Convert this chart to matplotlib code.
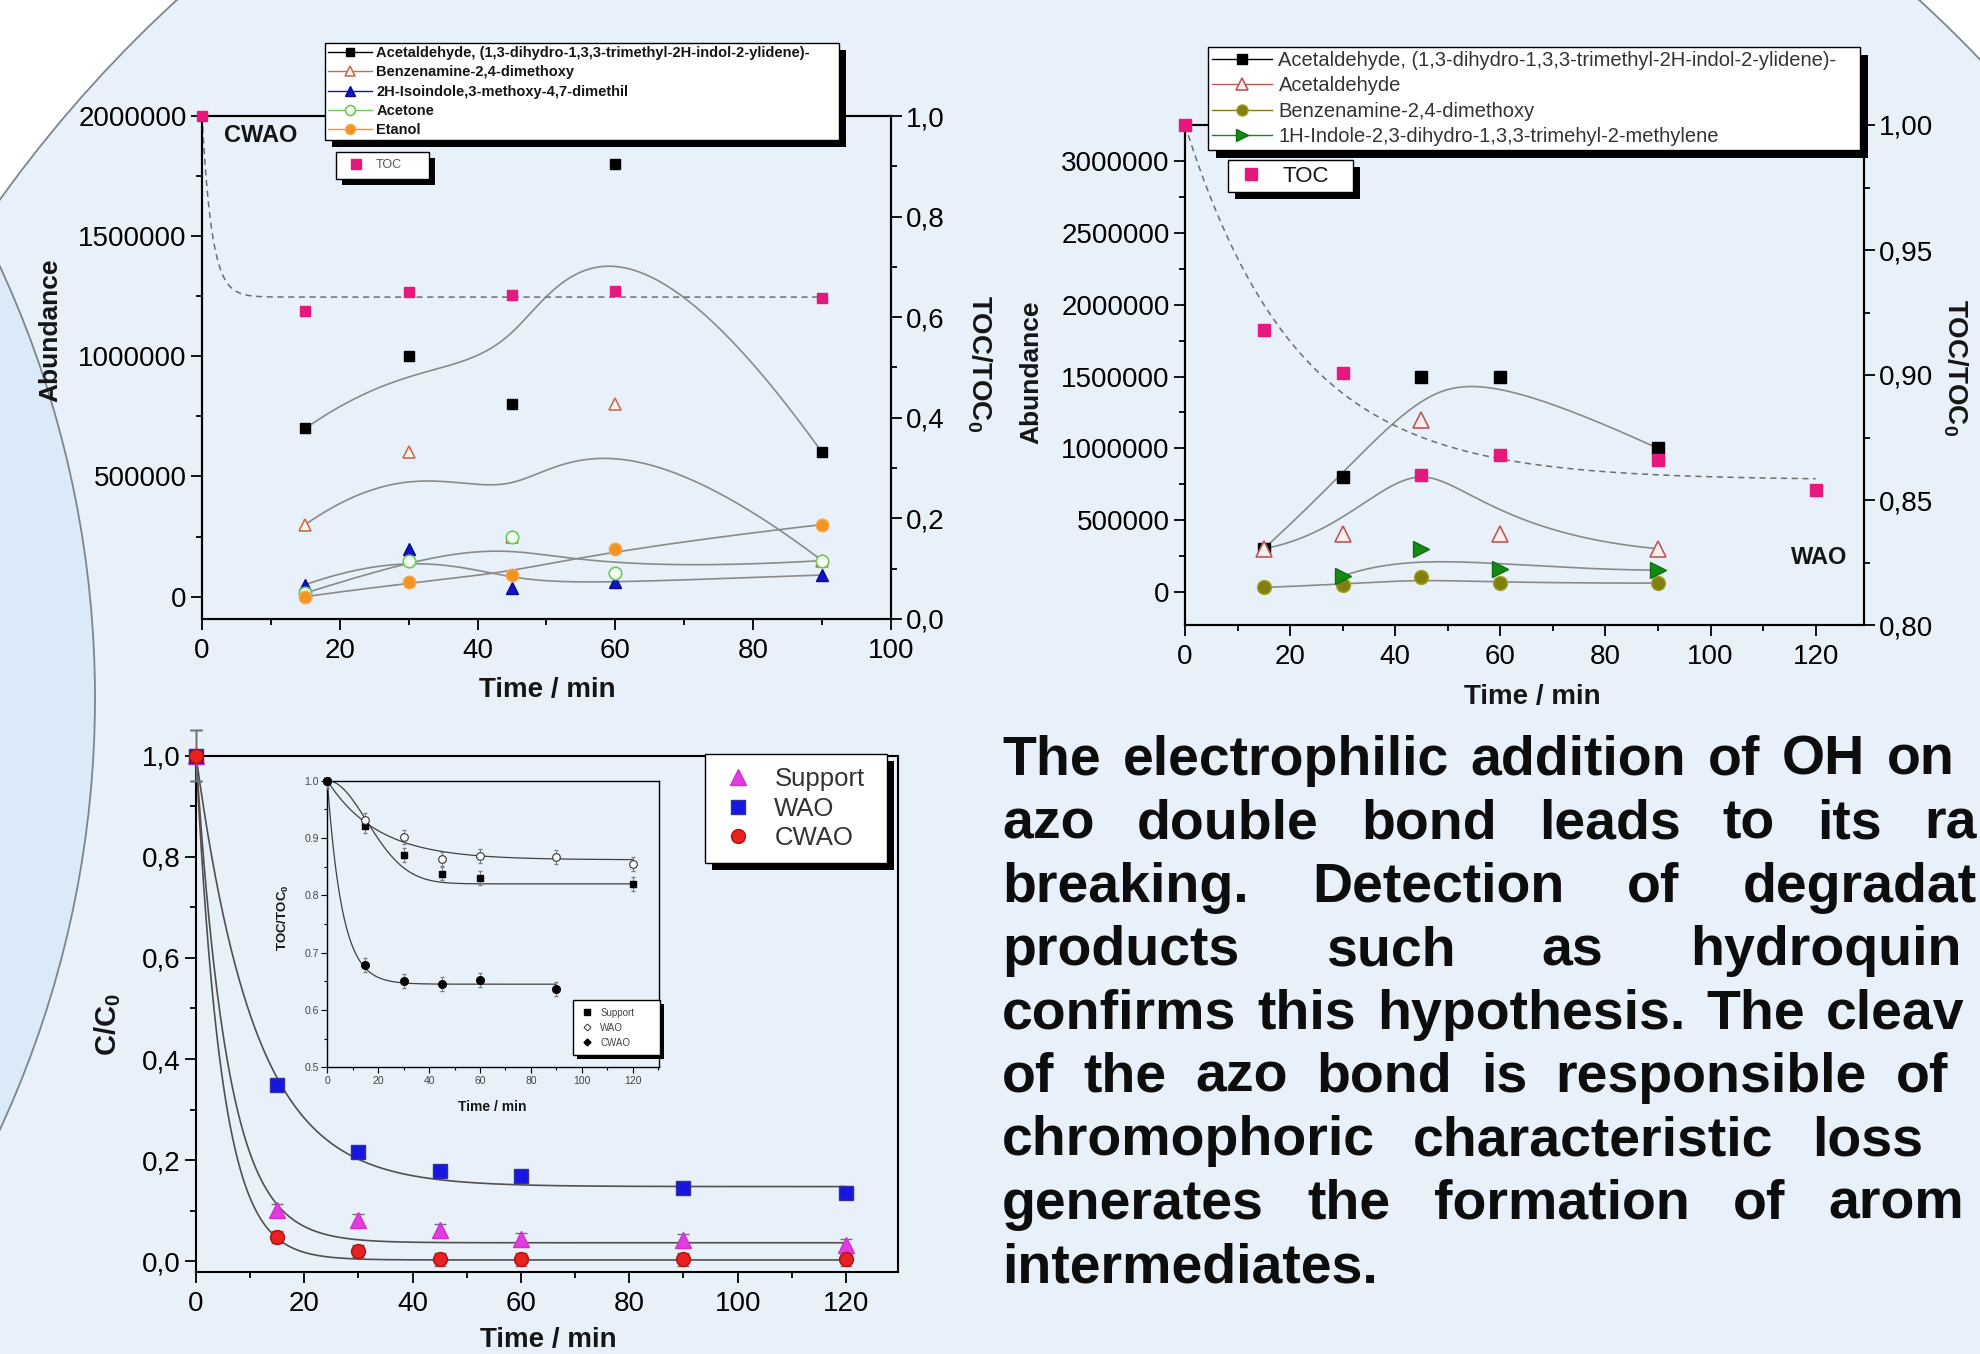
import numpy as np
import matplotlib
matplotlib.use("Agg")
import matplotlib.pyplot as plt
from matplotlib.lines import Line2D
from matplotlib.legend import Legend
from matplotlib.patches import Circle, Rectangle
from matplotlib.ticker import MultipleLocator, FuncFormatter
from matplotlib.transforms import IdentityTransform

W, H = 1981, 1354

# top left panel (CWAO), abundance of by-products
tl_time = [15, 30, 45, 60, 90]
tl_acetaldehyde_ylidene = [700000, 1000000, 800000, 1800000, 600000]
tl_benzenamine = [300000, 600000, 250000, 800000, 150000]
tl_isoindole = [50000, 200000, 35000, 60000, 90000]
tl_acetone = [15000, 150000, 250000, 100000, 150000]
tl_etanol = [0, 60000, 90000, 200000, 300000]
tl_toc_time = [0, 15, 30, 45, 60, 90]
tl_toc = [1.0, 0.612, 0.650, 0.645, 0.652, 0.638]
tl_toc_fit = (0.640, 0.7)          # plateau, rate (1/min)
tl_labels = ["Acetaldehyde, (1,3-dihydro-1,3,3-trimethyl-2H-indol-2-ylidene)-",
             "Benzenamine-2,4-dimethoxy",
             "2H-Isoindole,3-methoxy-4,7-dimethil",
             "Acetone",
             "Etanol"]

# top right panel (WAO)
tr_time = [15, 30, 45, 60, 90]
tr_acetaldehyde_ylidene = [300000, 800000, 1500000, 1500000, 1000000]
tr_acetaldehyde = [300000, 400000, 1200000, 400000, 300000]
tr_benzenamine = [30000, 50000, 100000, 60000, 60000]
tr_indole_time = [30, 45, 60, 90]
tr_indole = [110000, 300000, 160000, 150000]
tr_toc_time = [0, 15, 30, 45, 60, 90, 120]
tr_toc = [1.0, 0.918, 0.901, 0.860, 0.868, 0.866, 0.854]
tr_toc_fit = (0.858, 0.047)
tr_labels = ["Acetaldehyde, (1,3-dihydro-1,3,3-trimethyl-2H-indol-2-ylidene)-",
             "Acetaldehyde",
             "Benzenamine-2,4-dimethoxy",
             "1H-Indole-2,3-dihydro-1,3,3-trimehyl-2-methylene"]

# bottom panel, dye conversion C/C0
bl_time = [0, 15, 30, 45, 60, 90, 120]
bl_support = [1.0, 0.102, 0.082, 0.063, 0.044, 0.043, 0.033]
bl_wao = [1.0, 0.349, 0.217, 0.178, 0.168, 0.146, 0.136]
bl_cwao = [1.0, 0.049, 0.020, 0.004, 0.004, 0.004, 0.004]
bl_err = [0.05, 0.012, 0.012, 0.012, 0.012, 0.012, 0.012]
bl_support_fit = (0.037, 0.17)
bl_wao_fit = (0.148, 0.092)
bl_cwao_fit = (0.003, 0.21)

# inset, TOC/TOC0
in_time_support = [0, 15, 30, 45, 60, 120]
in_support = [1.0, 0.921, 0.870, 0.838, 0.830, 0.820]
in_time_wao = [0, 15, 30, 45, 60, 90, 120]
in_wao = [1.0, 0.931, 0.902, 0.863, 0.869, 0.867, 0.855]
in_time_cwao = [0, 15, 30, 45, 60, 90]
in_cwao = [1.0, 0.678, 0.651, 0.645, 0.652, 0.637]
in_err = 0.012
in_support_fit = (0.820, 22.0)     # plateau, time constant of the gaussian decay
in_wao_fit = (0.862, 0.05)
in_cwao_fit = (0.645, 0.17)

# justified paragraph; the page crops the right end of each line
para_lines = ["The electrophilic addition of OH on the",
              "azo double bond leads to its rapid",
              "breaking. Detection of degradation",
              "products such as hydroquinone",
              "confirms this hypothesis. The cleavage",
              "of the azo bond is responsible of the",
              "chromophoric characteristic loss and",
              "generates the formation of aromatic",
              "intermediates."]

PINK = "#E5187C"
GREY = "#8A8A8A"

plt.rcParams["font.family"] = ["Liberation Sans", "DejaVu Sans"]
plt.rcParams["mathtext.fontset"] = "custom"
plt.rcParams["mathtext.rm"] = "Liberation Sans"
plt.rcParams["mathtext.bf"] = "Liberation Sans:bold"
plt.rcParams["text.color"] = "#151515"


def frac(x0, y0, x1, y1):
    return [x0 / W, 1 - y1 / H, (x1 - x0) / W, (y1 - y0) / H]


def ftext(x, y, s, **kw):
    return fig.text(x / W, 1 - y / H, s, **kw)


def bspline(x, y, n=200):
    # clamped cubic B-spline with the data points as control points (Origin "B-Spline" line)
    P = np.column_stack([x, y]).astype(float)
    m = len(P)
    k = min(3, m - 1)
    knots = np.concatenate([np.zeros(k), np.linspace(0, 1, m - k + 1), np.ones(k)])
    t = np.linspace(0, 1, n)
    t[-1] = 1 - 1e-12

    def N(i, p):
        if p == 0:
            return ((knots[i] <= t) & (t < knots[i + 1])).astype(float)
        a = 0.0
        b = 0.0
        d1 = knots[i + p] - knots[i]
        if d1 > 0:
            a = (t - knots[i]) / d1 * N(i, p - 1)
        d2 = knots[i + p + 1] - knots[i + 1]
        if d2 > 0:
            b = (knots[i + p + 1] - t) / d2 * N(i + 1, p - 1)
        return a + b

    B = np.array([N(i, k) for i in range(m)])
    C = B.T @ P
    return C[:, 0], C[:, 1]


def exp_decay(t, plateau, rate):
    return plateau + (1 - plateau) * np.exp(-rate * t)


def comma(nd):
    return FuncFormatter(lambda v, p: f"{v:.{nd}f}".replace(".", ","))


def style(ax, fs=20, lw=1.5):
    for s in ax.spines.values():
        s.set_linewidth(lw)
    ax.tick_params(which="both", direction="out", width=1.3, labelsize=fs, pad=3)
    ax.tick_params(which="major", length=8)
    ax.tick_params(which="minor", length=4.5)


shadows = []


def boxed_legend(ax, handles, labels, box, fs, off=7, **kw):
    x0, y0, x1, y1 = box
    leg = Legend(ax, handles, labels, loc="upper left", mode="expand",
                 bbox_to_anchor=(x0 / W, 1 - y1 / H, (x1 - x0) / W, (y1 - y0) / H),
                 bbox_transform=fig.transFigure, borderaxespad=0, fancybox=False,
                 framealpha=1, facecolor="white", edgecolor="black", fontsize=fs, **kw)
    leg.get_frame().set_linewidth(1.0)
    ax.add_artist(leg)
    shadows.append((ax, leg, off))
    return leg


fig = plt.figure(figsize=(W / 100, H / 100), dpi=100, facecolor="white")

# background shapes
bg = fig.add_axes([0, 0, 1, 1], zorder=-10)
bg.set_xlim(0, W)
bg.set_ylim(H, 0)
bg.axis("off")
bg.add_patch(Circle((1048, 950), 1289, fc="#E8F0FA", ec="#7E858C", lw=1.3))
bg.add_patch(Circle((-932, 698), 1027, fc="#DAEAF8", ec="#7E858C", lw=1.3))

# ---------------- top left ----------------
ax1 = fig.add_axes(frac(202, 116, 891, 619))
ax1.set_facecolor("none")
ax1.set_xlim(0, 100)
ax1.set_ylim(-93000, 2000000)
style(ax1)
ax1.tick_params(top=False, right=False)
ax1.xaxis.set_major_locator(MultipleLocator(20))
ax1.xaxis.set_minor_locator(MultipleLocator(10))
ax1.yaxis.set_major_locator(MultipleLocator(500000))
ax1.yaxis.set_minor_locator(MultipleLocator(250000))
ax1.yaxis.set_major_formatter(FuncFormatter(lambda v, p: f"{v:.0f}"))
ax1.tick_params(axis="x", pad=6)

tl_styles = [
    dict(marker="s", ms=7.5, mfc="black", mec="black", color="black"),
    dict(marker="^", ms=9, mfc="#FFF2F0", mec="#C8704E", mew=1.2, color="#C8704E"),
    dict(marker="^", ms=9, mfc="#1212C8", mec="#0A0A90", color="#1212C8"),
    dict(marker="o", ms=9, mfc="#F4FFF0", mec="#6CCB5C", mew=1.2, color="#6CCB5C"),
    dict(marker="o", ms=9, mfc="#F29422", mec="#F5A850", color="#F29422"),
]
tl_values = [tl_acetaldehyde_ylidene, tl_benzenamine, tl_isoindole, tl_acetone, tl_etanol]
for vals in tl_values:
    sx, sy = bspline(tl_time, vals)
    ax1.plot(sx, sy, color=GREY, lw=1.2, zorder=2)
for vals, st in zip(tl_values, tl_styles):
    st = dict(st)
    st.pop("color")
    ax1.plot(tl_time, vals, ls="none", zorder=3, clip_on=False, **st)

ax1b = ax1.twinx()
ax1b.set_ylim(0, 1)
style(ax1b)
ax1b.yaxis.set_major_locator(MultipleLocator(0.2))
ax1b.yaxis.set_minor_locator(MultipleLocator(0.1))
ax1b.yaxis.set_major_formatter(comma(1))
tt = np.linspace(0, 90, 400)
ax1b.plot(tt, exp_decay(tt, *tl_toc_fit), color="#6E6E6E", lw=1.1, ls=(0, (4, 3)), zorder=2)
ax1b.plot(tl_toc_time, tl_toc, ls="none", marker="s", ms=7.5, color=PINK, zorder=4, clip_on=False)

h = []
for st in tl_styles:
    st = dict(st)
    st["ms"] = st["ms"] * 0.8
    h.append(Line2D([0], [0], lw=1.0, **st))
boxed_legend(ax1b, h, tl_labels, (325, 43, 839, 142), 10.5,
             prop=dict(weight="bold", size=10.5), labelspacing=0.36, borderpad=0.22,
             handlelength=3.0, handletextpad=0.3)
boxed_legend(ax1b, [Line2D([0], [0], ls="none", marker="s", ms=6.5, color=PINK)], ["TOC"],
             (336, 152, 429, 181), 9, off=6, borderpad=0.6, handlelength=2.0, handletextpad=0.6,
             labelcolor="#555555")

ftext(261, 135, "CWAO", fontsize=17, fontweight="bold", ha="center", va="center")
ftext(50, 330, "Abundance", fontsize=19, fontweight="bold", rotation=90, ha="center", va="center")
ftext(979, 364, r"TOC/TOC$_\mathbf{0}$", fontsize=20, fontweight="bold", rotation=270,
      ha="center", va="center")
ftext(547, 690, "Time / min", fontsize=20, fontweight="bold", ha="center", va="center")

# ---------------- top right ----------------
ax2 = fig.add_axes(frac(1185, 125, 1864, 625))
ax2.set_facecolor("none")
ax2.set_xlim(0, 129.2)
ax2.set_ylim(-232000, 3254500)
style(ax2)
ax2.tick_params(top=False, right=False)
ax2.xaxis.set_major_locator(MultipleLocator(20))
ax2.xaxis.set_minor_locator(MultipleLocator(10))
ax2.yaxis.set_major_locator(MultipleLocator(500000))
ax2.yaxis.set_minor_locator(MultipleLocator(250000))
ax2.yaxis.set_major_formatter(FuncFormatter(lambda v, p: f"{v:.0f}"))
ax2.tick_params(axis="x", pad=6)

tr_styles = [
    dict(marker="s", ms=9, mfc="black", mec="black", color="black"),
    dict(marker="^", ms=11, mfc="#FFECEC", mec="#B85A5A", mew=1.2, color="#B85A5A"),
    dict(marker="o", ms=10, mfc="#807F12", mec="#A3A31C", color="#807F12"),
    dict(marker=">", ms=11, mfc="#138A13", mec="#0E6E0E", color="#138A13"),
]
tr_data = [(tr_time, tr_acetaldehyde_ylidene), (tr_time, tr_acetaldehyde),
           (tr_time, tr_benzenamine), (tr_indole_time, tr_indole)]
for tx, vals in tr_data:
    sx, sy = bspline(tx, vals)
    ax2.plot(sx, sy, color=GREY, lw=1.2, zorder=2)
for (tx, vals), st in zip(tr_data, tr_styles):
    st = dict(st)
    st.pop("color")
    ax2.plot(tx, vals, ls="none", zorder=3, clip_on=False, **st)

ax2b = ax2.twinx()
ax2b.set_ylim(0.80, 1.00)
style(ax2b)
ax2b.yaxis.set_major_locator(MultipleLocator(0.05))
ax2b.yaxis.set_minor_locator(MultipleLocator(0.025))
ax2b.yaxis.set_major_formatter(comma(2))
tt = np.linspace(0, 120, 400)
ax2b.plot(tt, exp_decay(tt, *tr_toc_fit), color="#6E6E6E", lw=1.1, ls=(0, (4, 3)), zorder=2)
ax2b.plot(tr_toc_time, tr_toc, ls="none", marker="s", ms=9, color=PINK, zorder=4, clip_on=False)

h = []
for st in tr_styles:
    st = dict(st)
    st["ms"] = st["ms"] * 0.8
    h.append(Line2D([0], [0], lw=1.0, **st))
boxed_legend(ax2b, h, tr_labels, (1208, 47, 1860, 150), 14.5, off=8,
             labelspacing=0.32, borderpad=0.2, handlelength=3.0, handletextpad=0.3,
             labelcolor="#333333")
boxed_legend(ax2b, [Line2D([0], [0], ls="none", marker="s", ms=9, color=PINK)], ["TOC"],
             (1228, 160, 1353, 195), 16, off=7, borderpad=0.25, handlelength=1.6, handletextpad=0.6)

ftext(1819, 557, "WAO", fontsize=17, fontweight="bold", ha="center", va="center")
ftext(1031, 372, "Abundance", fontsize=19, fontweight="bold", rotation=90, ha="center", va="center")
ftext(1955, 368, r"TOC/TOC$_\mathbf{0}$", fontsize=20, fontweight="bold", rotation=270,
      ha="center", va="center")
ftext(1532, 697, "Time / min", fontsize=20, fontweight="bold", ha="center", va="center")

# ---------------- bottom ----------------
ax3 = fig.add_axes(frac(196, 755.5, 898.5, 1271.6))
ax3.set_facecolor("none")
ax3.set_xlim(0, 129.7)
ax3.set_ylim(-0.02, 1.0)
style(ax3, fs=20)
ax3.tick_params(top=False, right=False)
ax3.xaxis.set_major_locator(MultipleLocator(20))
ax3.xaxis.set_minor_locator(MultipleLocator(10))
ax3.yaxis.set_major_locator(MultipleLocator(0.2))
ax3.yaxis.set_minor_locator(MultipleLocator(0.1))
ax3.yaxis.set_major_formatter(comma(1))
ax3.tick_params(axis="x", pad=6)

tt = np.linspace(0, 120, 500)
for fit in (bl_support_fit, bl_wao_fit, bl_cwao_fit):
    ax3.plot(tt, exp_decay(tt, *fit), color="#505050", lw=1.2, zorder=2)
bl_styles = [
    (bl_support, dict(marker="^", ms=11, mfc="#E23BE0", mec="#D030D0")),
    (bl_wao, dict(marker="s", ms=9.5, mfc="#1616E0", mec="#3030A0")),
    (bl_cwao, dict(marker="o", ms=10, mfc="#E82121", mec="#B01010")),
]
for vals, st in bl_styles:
    ax3.errorbar(bl_time, vals, yerr=bl_err, fmt="none", ecolor="#707070", elinewidth=1,
                 capsize=4, zorder=3, clip_on=False)
    ax3.plot(bl_time, vals, ls="none", zorder=4, clip_on=False, **st)

h = [Line2D([0], [0], ls="none", **st) for _, st in bl_styles]
boxed_legend(ax3, h, ["Support", "WAO", "CWAO"], (705, 754, 887, 866), 18.5, off=7,
             labelspacing=0.22, borderpad=0.5, handlelength=1.6, handletextpad=0.6,
             labelcolor="#333333")

ftext(108, 1025, r"C/C$_\mathbf{0}$", fontsize=21, fontweight="bold", rotation=90,
      ha="center", va="center")
ftext(548, 1340, "Time / min", fontsize=20, fontweight="bold", ha="center", va="center")

# ---------------- inset ----------------
ax4 = fig.add_axes(frac(327.3, 780.7, 659.3, 1067.3))
ax4.set_facecolor("none")
ax4.set_xlim(0, 130.5)
ax4.set_ylim(0.5, 1.0)
for s in ax4.spines.values():
    s.set_linewidth(1.0)
ax4.tick_params(which="both", direction="out", width=0.8, labelsize=7.5, pad=2,
                labelcolor="#444444")
ax4.tick_params(which="major", length=4)
ax4.tick_params(which="minor", length=2.5)
ax4.xaxis.set_major_locator(MultipleLocator(20))
ax4.xaxis.set_minor_locator(MultipleLocator(10))
ax4.yaxis.set_major_locator(MultipleLocator(0.1))
ax4.yaxis.set_minor_locator(MultipleLocator(0.05))

tt = np.linspace(0, 120, 400)
ax4.plot(tt, in_support_fit[0] + (1 - in_support_fit[0]) * np.exp(-(tt / in_support_fit[1]) ** 2),
         color="#404040", lw=0.9)
ax4.plot(tt, exp_decay(tt, *in_wao_fit), color="#404040", lw=0.9)
tt = np.linspace(0, 90, 300)
ax4.plot(tt, exp_decay(tt, *in_cwao_fit), color="#404040", lw=0.9)
in_sets = [
    (in_time_support, in_support, dict(marker="s", ms=5, mfc="black", mec="black")),
    (in_time_wao, in_wao, dict(marker="o", ms=5.5, mfc="white", mec="#333333", mew=0.8)),
    (in_time_cwao, in_cwao, dict(marker="o", ms=5.5, mfc="black", mec="black")),
]
for tx, vals, st in in_sets:
    ax4.errorbar(tx, vals, yerr=in_err, fmt="none", ecolor="#808080", elinewidth=0.7,
                 capsize=1.5, zorder=3)
    ax4.plot(tx, vals, ls="none", zorder=4, clip_on=False, **st)

h = [Line2D([0], [0], ls="none", marker="s", ms=4, mfc="black", mec="black"),
     Line2D([0], [0], ls="none", marker="D", ms=3.5, mfc="white", mec="#333333", mew=0.7),
     Line2D([0], [0], ls="none", marker="D", ms=3.5, mfc="black", mec="black")]
boxed_legend(ax4, h, ["Support", "WAO", "CWAO"], (573, 1000, 660, 1062), 7, off=4,
             labelspacing=0.5, borderpad=0.8, handlelength=1.2, handletextpad=0.8,
             labelcolor="#444444")
ftext(283, 918, r"TOC/TOC$_\mathbf{0}$", fontsize=9.5, fontweight="bold", rotation=90,
      ha="center", va="center")
ftext(492, 1107, "Time / min", fontsize=10, fontweight="bold", ha="center", va="center")

# ---------------- legend shadows and justified paragraph ----------------
fig.canvas.draw()
renderer = fig.canvas.get_renderer()
for ax, leg, off in shadows:
    bb = leg.get_window_extent(renderer)
    ax.add_patch(Rectangle((bb.x0 + off, bb.y0 - off), bb.width, bb.height,
                           transform=IdentityTransform(), fc="black", ec="none",
                           zorder=leg.get_zorder() - 0.5, clip_on=False))


def word_width(w, fs):
    t = fig.text(0, 0, w, fontsize=fs, fontweight="bold")
    wd = t.get_window_extent(renderer).width
    t.remove()
    return wd


para_fs = 40
x_left, x_right = 1002, 2060       # justified block is wider than the page
page_edge = W - 1
base0, line_step = 775, 63.4
space = word_width("a a", para_fs) - 2 * word_width("a", para_fs)
for i, line in enumerate(para_lines):
    words = line.split()
    widths = [word_width(w, para_fs) for w in words]
    if i < len(para_lines) - 1 and len(words) > 1:
        gap = (x_right - x_left - sum(widths)) / (len(words) - 1)
    else:
        gap = space
    x = x_left
    for w, wd in zip(words, widths):
        shown = w
        # keep only the part of the word that is on the page
        while shown and x + word_width(shown, para_fs) > page_edge:
            shown = shown[:-1]
        if shown:
            ftext(x, base0 + i * line_step, shown, fontsize=para_fs, fontweight="bold",
                  ha="left", va="baseline", color="#0D0D0D")
        x += wd + gap

fig.savefig("out.png", dpi=100, facecolor=fig.get_facecolor())
